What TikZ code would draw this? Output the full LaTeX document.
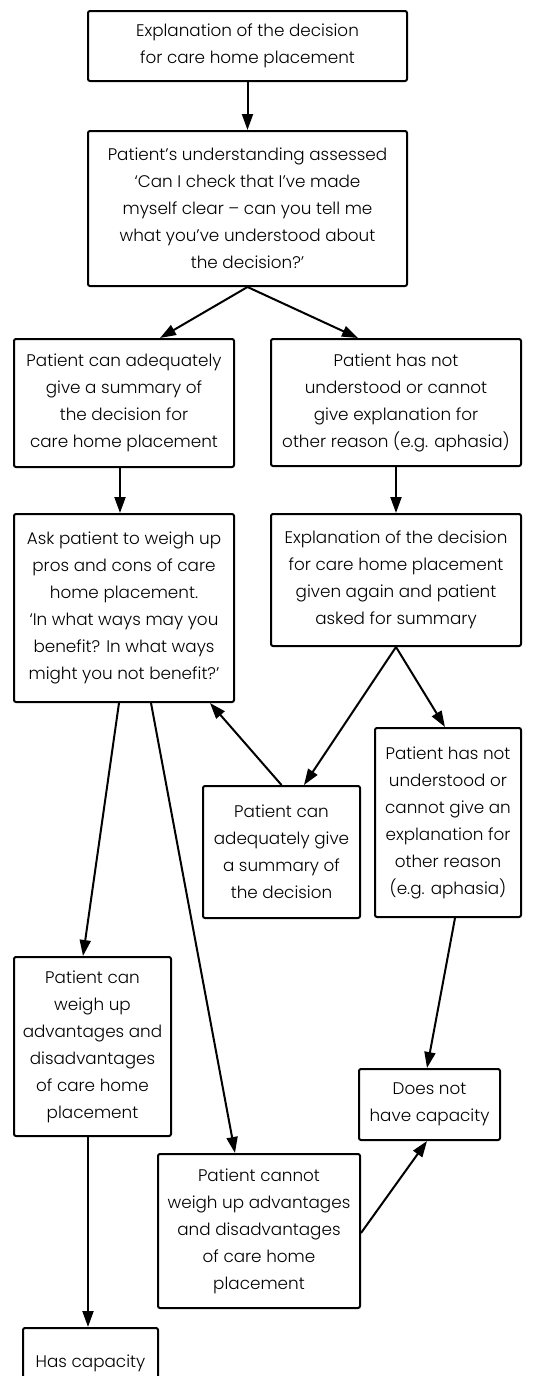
\documentclass[tikz,border=0pt]{standalone}
\usepackage{fontspec}
\IfFontExistsTF{Poppins Light}{\setmainfont{Poppins Light}}{\setmainfont{Poppins}}
\usetikzlibrary{arrows.meta,calc}
\tikzset{
  box/.style={draw, line width=1pt, rounded corners=1pt, align=center, inner sep=0pt,
    font=\fontsize{8.4}{13.5}\selectfont},
  conn/.style={line width=1pt, -{Triangle[length=8pt,width=5.5pt]}}
}
\begin{document}
\begin{tikzpicture}[x=0.5pt,y=-0.5pt]
\useasboundingbox (0,0) rectangle (542,1376);
\node[box, minimum width=159.5pt, minimum height=35pt] (b1) at (247.5,46)
  {Explanation of the decision\\for care home placement};
\node[box, minimum width=159.5pt, minimum height=77.5pt] (b2) at (247.5,208.5)
  {Patient’s understanding assessed\\‘Can I check that I’ve made\\myself clear – can you tell me\\what you’ve understood about\\the decision?’};
\node[box, minimum width=110pt, minimum height=64pt] (b3) at (124,403)
  {Patient can adequately\\give a summary of\\the decision for\\care home placement};
\node[box, minimum width=125pt, minimum height=63.5pt] (b4) at (396,402.5)
  {Patient has not\\understood or cannot\\give explanation for\\other reason (e.g. aphasia)};
\node[box, minimum width=110pt, minimum height=94pt] (b5) at (124,608)
  {Ask patient to weigh up\\pros and cons of care\\home placement.\\‘In what ways may you\\benefit? In what ways\\might you not benefit?’};
\node[box, minimum width=125pt, minimum height=66pt] (b6) at (396,580)
  {Explanation of the decision\\for care home placement\\given again and patient\\asked for summary};
\node[box, minimum width=78.5pt, minimum height=66pt] (b7) at (281.5,852)
  {Patient can\\adequately give\\a summary of\\the decision};
\node[box, minimum width=73pt, minimum height=94.5pt] (b8) at (448,822.5)
  {Patient has not\\understood or\\cannot give an\\explanation for\\other reason\\(e.g. aphasia)};
\node[box, minimum width=78.5pt, minimum height=89.5pt] (b9) at (92.5,1046.5)
  {Patient can\\weigh up\\advantages and\\disadvantages\\of care home\\placement};
\node[box, minimum width=101pt, minimum height=77pt] (b10) at (259,1231)
  {Patient cannot\\weigh up advantages\\and disadvantages\\of care home\\placement};
\node[box, minimum width=70.5pt, minimum height=35.5pt] (b11) at (429.5,1104.5)
  {Does not\\have capacity};
\node[box, minimum width=67.5pt, minimum height=35.5pt] (b12) at (90.5,1363.5)
  {Has capacity};

\draw[conn] (b1.south) -- (b2.north);
\draw[conn] (b2.south) -- ($(b3.north)+(36,0)$);
\draw[conn] (b2.south) -- ($(b4.north)+(-38,0)$);
\draw[conn] ($(b3.south)+(-4,0)$) -- ($(b5.north)+(-4,0)$);
\draw[conn] (b4.south) -- (b6.north);
\draw[conn] (b6.south) -- ($(b7.north)+(22.5,0)$);
\draw[conn] (b6.south) -- ($(b8.north)+(-3,0)$);
\draw[conn] (b7.north) -- ($(b5.south east)+(-25,0)$);
\draw[conn] ($(b5.south)+(-5,0)$) -- ($(b9.north)+(-9.5,0)$);
\draw[conn] ($(b5.south)+(27,0)$) -- ($(b10.north)+(-24,0)$);
\draw[conn] ($(b8.south)+(7,0)$) -- ($(b11.north)+(-2.5,0)$);
\draw[conn] ($(b10.east)+(0,2)$) -- ($(b11.south)+(-2.5,0)$);
\draw[conn] ($(b9.south)+(-4.5,0)$) -- ($(b12.north)+(-2.5,0)$);
\end{tikzpicture}
\end{document}
